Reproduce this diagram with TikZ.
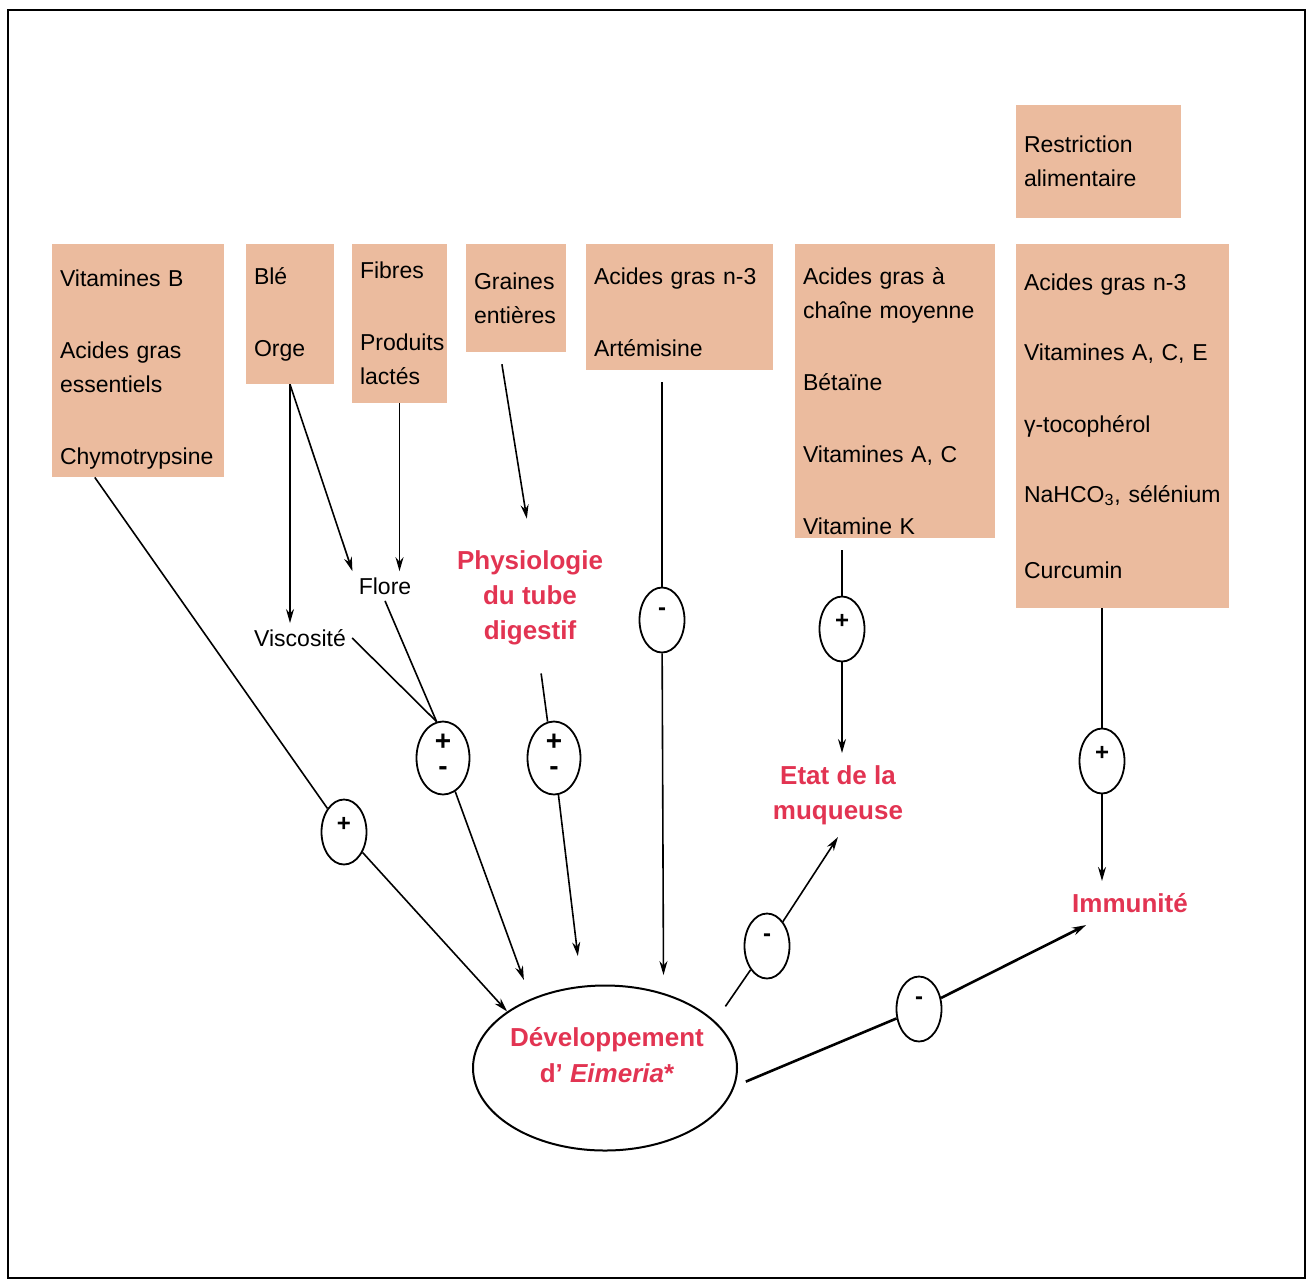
\documentclass[tikz,border=0pt]{standalone}
\usepackage{fontspec}
\setmainfont{Liberation Sans}
\usetikzlibrary{shapes.geometric,arrows.meta,calc}

\definecolor{boxColor}{RGB}{235,187,158}
\definecolor{effectRed}{RGB}{226,52,82}

\begin{document}
\begin{tikzpicture}
[x=0.5pt,y=-0.5pt,%
  boxDecorate/.style={fill=boxColor,inner xsep=4pt,inner ysep=0pt,align=left,font=\fontsize{11.5}{17}\selectfont},%
  labelDecorate/.style={inner sep=3pt,align=center,font=\fontsize{11.5}{17}\selectfont},%
  effectDecorate/.style={inner sep=6pt,align=center,text=effectRed,font=\fontsize{13}{17.5}\selectfont\bfseries},%
  signDecorate/.style={shape=ellipse,draw,line width=0.9pt,inner sep=0pt,minimum width=22.5pt,minimum height=32.5pt,text depth=8pt,font=\fontsize{12}{12}\selectfont\bfseries},%
  bigSignDecorate/.style={signDecorate,minimum width=26.5pt,minimum height=36.5pt,align=center,text depth=3.6pt,font=\fontsize{14}{14}\selectfont\bfseries},%
  devDecorate/.style={shape=ellipse,draw,line width=1pt,minimum width=132pt,minimum height=82.5pt},%
  lineDecorate/.style={-,line width=0.8pt},%
  arrowDecorate/.style={-{Stealth[length=7pt,width=4pt]},line width=0.8pt}]
\useasboundingbox (0,0) rectangle (1312,1281);
%% frame
\draw[line width=0.7pt] (8,10) rectangle (1305,1278);
\draw[line width=1.4pt] (8,10) -- (1305,10);

%% boxes with the feed factors
\node[boxDecorate,text width=78pt,minimum height=116.5pt] (vitB) at (138,360.5)
  {\rule{0pt}{17pt}Vitamines B\\[19pt] Acides gras\\ essentiels\\[19pt] Chymotrypsine};
\node[boxDecorate,text width=36pt,minimum height=70pt] (ble) at (290,314)
  {Blé\\[19pt] Orge};
\node[boxDecorate,text width=39.5pt,minimum height=79.5pt] (fib) at (399.5,323.5)
  {Fibres\\[19pt] Produits\\ lactés};
\node[boxDecorate,text width=42pt,minimum height=54pt] (gra) at (516,298)
  {Graines\\ entières};
\node[boxDecorate,text width=85.5pt,minimum height=63pt] (agn) at (679.5,307)
  {\rule{0pt}{13.5pt}Acides gras n-3\\[19pt] Artémisine};
\node[boxDecorate,text width=92pt,minimum height=147pt] (agc) at (895,391)
  {\rule{0pt}{18.5pt}Acides gras à\\ chaîne moyenne\\[19pt] Bétaïne\\[19pt] Vitamines A, C\\[19pt] Vitamine K};
\node[boxDecorate,text width=74.5pt,minimum height=56.5pt] (res) at (1098.5,161.5)
  {Restriction\\ alimentaire};
\node[boxDecorate,text width=98.5pt,minimum height=182pt] (agr) at (1122.5,426)
  {Acides gras n-3\\[18pt] Vitamines A, C, E\\[19pt] γ-tocophérol\\[18pt] NaHCO\textsubscript{3}, sélénium\\[21pt] Curcumin};

%% intermediate labels and effects
\node[labelDecorate] (visc) at (300,638) {Viscosité};
\node[labelDecorate] (flore) at (385,586) {Flore};
\node[effectDecorate] (phys) at (530,598) {Physiologie\\ du tube\\ digestif};
\node[effectDecorate] (etat) at (838,795) {Etat de la\\ muqueuse};
\node[effectDecorate] (imm) at (1130,903) {Immunité};

%% central ellipse
\node[devDecorate] (dev) at (605,1068) {};
\node[effectDecorate,font=\fontsize{13}{18}\selectfont\bfseries] (devText) at (607,1055)
  {Développement\\ d' \textit{Eimeria}*};

%% signs
\foreach \nodename/\x/\y/\sign in {s1/344/832/+, s4/662/620/-, s5/842/629/+, s6/767/946/-, s7/919/1009/-, s8/1102/761/+}
{
  \node (\nodename) at (\x,\y) [signDecorate] {\sign};
}
\node (s2) at (443,758) [bigSignDecorate] {+\\[-1.5pt]-};
\node (s3) at (554,758) [bigSignDecorate] {+\\[-1.5pt]-};

%% lines into the signs
\draw[lineDecorate] ($(vitB.south west)!0.25!(vitB.south east)$) -- (s1);
\draw[lineDecorate] (visc.east) -- (s2.100);
\draw[lineDecorate] (flore.south) -- (s2.100);
\draw[lineDecorate,shorten <=8pt] ($(phys.south)+(9,0)$) -- (s3.100);
\draw[lineDecorate,shorten <=6pt] (s4 |- agn.south) -- (s4);
\draw[lineDecorate,shorten <=6pt] (s5 |- agc.south) -- (s5);
\draw[lineDecorate] (s8 |- agr.south) -- (s8);
\draw[lineDecorate,shorten <=9pt] (dev.23) -- (s6);
\draw[lineDecorate,line width=1.3pt,shorten <=6pt] (dev.-8) -- (s7);

%% arrows
\path
\foreach \startnode/\endnode in {s1/dev.150, ble.south/flore.north west, s6/etat.south}
{
  (\startnode) edge[arrowDecorate] (\endnode)
};
\draw[arrowDecorate] (ble.south) -- (ble.south |- visc.north);
\draw[arrowDecorate] (fib.south) -- (fib.south |- flore.north);
\draw[arrowDecorate,shorten <=6pt,shorten >=10pt] ($(gra.south)+(-16,0)$) -- (phys.north);
\draw[arrowDecorate,shorten >=10pt] (s2) -- (dev.137);
\draw[arrowDecorate,shorten >=15pt] (s3) -- (dev.106);
\draw[arrowDecorate,shorten >=9pt] (s4) -- (dev.52);
\draw[arrowDecorate] (s5) -- (s5 |- etat.north);
\draw[arrowDecorate] (s8) -- (s8 |- imm.north);
\draw[arrowDecorate,line width=1.3pt] (s7) -- (imm);
\end{tikzpicture}
\end{document}
